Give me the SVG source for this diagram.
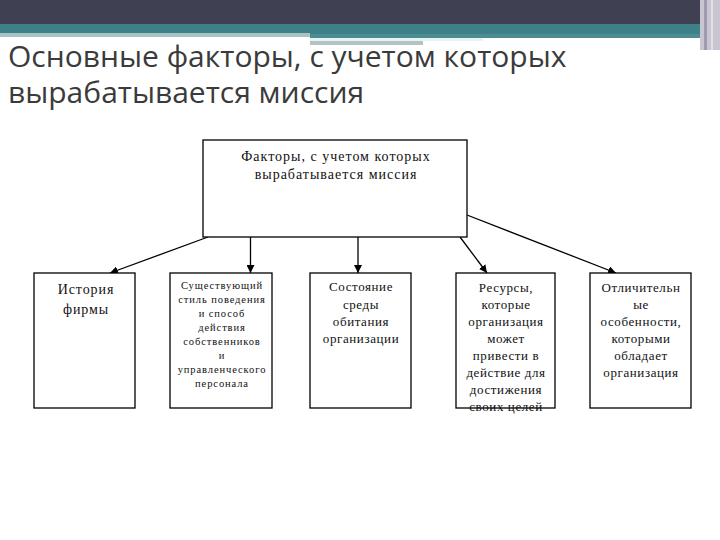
<svg xmlns="http://www.w3.org/2000/svg" width="720" height="540" viewBox="0 0 720 540">
<style>
.title{font-family:"Open Sans","DejaVu Sans",sans-serif;font-size:30px;fill:#3b3b3b}
.box{fill:#fff;stroke:#000;stroke-width:1.3}
.t{font-family:"Liberation Serif","DejaVu Serif",serif;font-size:13px;letter-spacing:0.6px;fill:#111;text-anchor:middle}
.m{font-family:"Liberation Serif","DejaVu Serif",serif;font-size:14px;letter-spacing:1px;fill:#111;text-anchor:middle}
.h{font-family:"Liberation Serif","DejaVu Serif",serif;font-size:14px;letter-spacing:0.9px;fill:#111;text-anchor:middle}
.s{font-family:"Liberation Serif","DejaVu Serif",serif;font-size:10.5px;letter-spacing:0.9px;fill:#111;text-anchor:middle}
.c{stroke:#000;stroke-width:1.3;fill:none;marker-end:url(#ah)}
</style>
<defs>
<marker id="ah" viewBox="0 0 10 10" refX="10" refY="5" markerWidth="8" markerHeight="8" markerUnits="userSpaceOnUse" orient="auto">
<path d="M0,0 L10,5 L0,10 z" fill="#000"/>
</marker>
</defs>
<rect width="720" height="540" fill="#fff"/>
<g id="header">
<rect x="0" y="0" width="720" height="24" fill="#3f4052"/>
<rect x="0" y="24" width="702" height="10" fill="#3e8088"/>
<rect x="0" y="33" width="310" height="4" fill="#a9c3c5"/>
<rect x="310" y="34" width="392" height="4" fill="#4e8c92"/>
<rect x="310" y="38" width="173" height="3" fill="#e6f4f4"/>
<rect x="310" y="41" width="113" height="4" fill="#b3c2c2"/>
<rect x="700" y="0" width="20" height="50" fill="#c9c6d2"/>
<rect x="704" y="0" width="3" height="50" fill="#9e9cae"/>
<rect x="711" y="0" width="2" height="50" fill="#e2e0e8"/>
</g>
<g id="title">
<text class="title" x="8" y="67">Основные факторы, с учетом которых</text>
<text class="title" x="8" y="103">вырабатывается миссия</text>
</g>
<g id="connectors">
<line class="c" x1="208" y1="237" x2="110" y2="273"/>
<line class="c" x1="250.5" y1="237" x2="250.5" y2="273"/>
<line class="c" x1="358" y1="237" x2="358" y2="273"/>
<line class="c" x1="460" y1="237" x2="487" y2="273"/>
<line class="c" x1="467" y1="215" x2="616" y2="273"/>
</g>
<g id="main">
<rect class="box" x="203" y="140" width="264" height="97"/>
<text class="m" x="336" y="161">Факторы, с учетом которых</text>
<text class="m" x="336" y="179">вырабатывается миссия</text>
</g>
<g id="history">
<rect class="box" x="34" y="273" width="101" height="135"/>
<text class="h" x="86" y="294">История</text>
<text class="h" x="86" y="314">фирмы</text>
</g>
<g id="style">
<rect class="box" x="170" y="273" width="102" height="135"/>
<text class="s" x="222" y="289">Существующий</text>
<text class="s" x="222" y="303">стиль поведения</text>
<text class="s" x="222" y="317">и способ</text>
<text class="s" x="222" y="331">действия</text>
<text class="s" x="222" y="345">собственников</text>
<text class="s" x="222" y="359">и</text>
<text class="s" x="222" y="373">управленческого</text>
<text class="s" x="222" y="387">персонала</text>
</g>
<g id="environment">
<rect class="box" x="310" y="273" width="101" height="135"/>
<text class="t" x="361" y="291">Состояние</text>
<text class="t" x="361" y="309">среды</text>
<text class="t" x="361" y="326">обитания</text>
<text class="t" x="361" y="343">организации</text>
</g>
<g id="resources">
<rect class="box" x="456" y="273" width="99" height="135"/>
<text class="t" x="506" y="292">Ресурсы,</text>
<text class="t" x="506" y="309">которые</text>
<text class="t" x="506" y="326">организация</text>
<text class="t" x="506" y="343">может</text>
<text class="t" x="506" y="360">привести в</text>
<text class="t" x="506" y="377">действие для</text>
<text class="t" x="506" y="394">достижения</text>
<text class="t" x="506" y="411">своих целей</text>
</g>
<g id="features">
<rect class="box" x="590" y="273" width="101" height="135"/>
<text class="t" x="641" y="292">Отличительн</text>
<text class="t" x="641" y="309">ые</text>
<text class="t" x="641" y="326">особенности,</text>
<text class="t" x="641" y="343">которыми</text>
<text class="t" x="641" y="360">обладает</text>
<text class="t" x="641" y="377">организация</text>
</g>
</svg>
